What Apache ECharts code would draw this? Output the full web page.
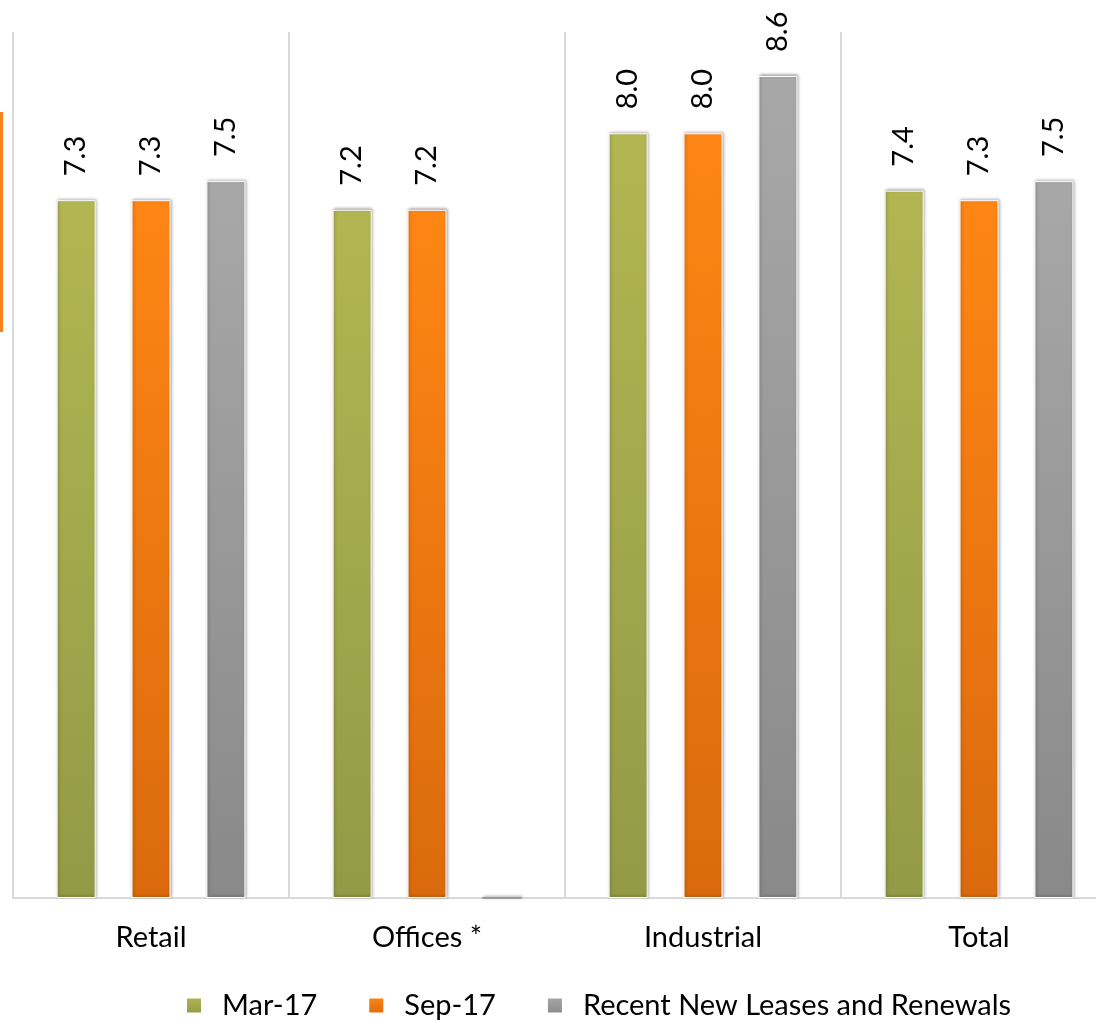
<!DOCTYPE html>
<html>
<head>
<meta charset="utf-8">
<script src="https://cdn.jsdelivr.net/npm/echarts@6/dist/echarts.min.js"></script>
<style>
  html, body { margin: 0; padding: 0; background: #fff; overflow: hidden; }
  #chart { width: 1117px; height: 1023px; }
</style>
</head>
<body>
<div id="chart"></div>
<script>
// Sectors and the three lease-term series
const categories = ['Retail', 'Offices *', 'Industrial', 'Total'];
const seriesNames = ['Mar-17', 'Sep-17', 'Recent New Leases and Renewals'];
const mar17 = [7.3, 7.2, 8.0, 7.4];
const sep17 = [7.3, 7.2, 8.0, 7.3];
const recent = [7.5, 0, 8.6, 7.5];

const FONT = 'Lato, "Open Sans", sans-serif';
const FS = 29;

function grad(top, bottom) {
  return new echarts.graphic.LinearGradient(0, 0, 0, 1, [
    { offset: 0, color: top },
    { offset: 1, color: bottom }
  ]);
}

const palette = [
  grad('#B2B652', '#939A46'),
  grad('#FF8614', '#DA6A0D'),
  grad('#A8A8A8', '#898989')
];

function makeSeries(name, data, color) {
  return {
    name: name,
    type: 'bar',
    // empty entries still show a thin grey cap on the baseline
    data: data.map(v => (v > 0 ? v : { value: v, itemStyle: { borderColor: '#9A9A9A', borderWidth: 2 } })),
    barWidth: 39,
    barGap: '92%',
    itemStyle: {
      color: color,
      borderColor: '#ffffff',
      borderWidth: 1,
      shadowColor: 'rgba(0,0,0,0.35)',
      shadowBlur: 3,
      shadowOffsetX: 1,
      shadowOffsetY: -1
    },
    label: {
      show: true,
      position: 'top',
      rotate: 90,
      align: 'left',
      verticalAlign: 'middle',
      distance: 24,
      fontFamily: FONT,
      fontSize: FS,
      color: '#000',
      formatter: p => (p.value > 0 ? p.value.toFixed(1) : '')
    }
  };
}

const chart = echarts.init(document.getElementById('chart'), null, { renderer: 'canvas' });
chart.setOption({
  animation: false,
  backgroundColor: '#ffffff',
  graphic: [{
    type: 'rect',
    left: 0,
    top: 112,
    shape: { width: 3, height: 220 },
    style: { fill: '#F7841A' }
  }],
  grid: { left: 13, top: 32, width: 1104, height: 866, containLabel: false },
  legend: {
    top: 986,
    left: 180,
    icon: 'rect',
    itemWidth: 16,
    itemHeight: 16,
    itemGap: 50,
    textStyle: { fontFamily: FONT, fontSize: FS, color: '#000', padding: [0, 0, 0, 15] },
    data: seriesNames
  },
  xAxis: {
    type: 'category',
    data: categories,
    axisLine: { show: true, lineStyle: { color: '#D9D9D9', width: 2 } },
    axisTick: { show: false },
    splitLine: { show: true, lineStyle: { color: '#D9D9D9', width: 2 } },
    axisLabel: { fontFamily: FONT, fontSize: FS, color: '#000', margin: 25 }
  },
  yAxis: {
    type: 'value',
    min: 0,
    max: 9.06,
    show: false,
    splitLine: { show: false }
  },
  series: [
    makeSeries(seriesNames[0], mar17, palette[0]),
    makeSeries(seriesNames[1], sep17, palette[1]),
    makeSeries(seriesNames[2], recent, palette[2])
  ]
});
</script>
</body>
</html>
